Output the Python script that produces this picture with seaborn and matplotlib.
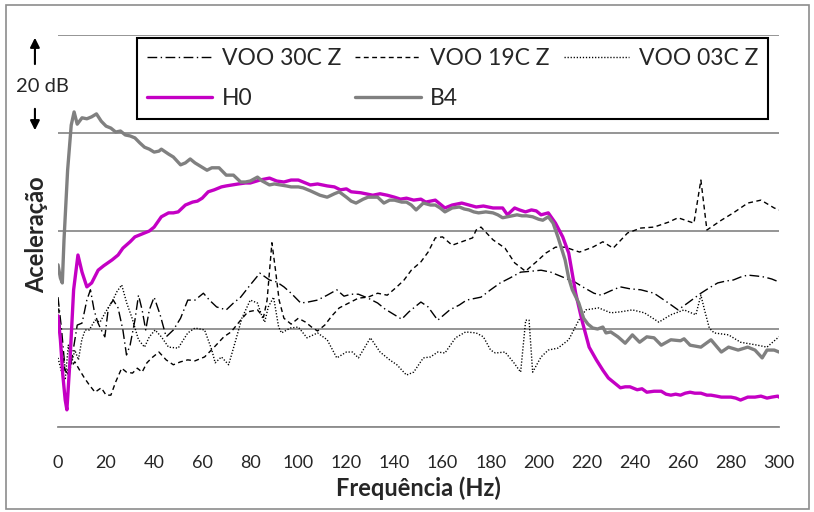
import matplotlib
matplotlib.use("Agg")
import matplotlib.pyplot as plt
import seaborn as sns
from matplotlib.patches import Rectangle

# --- data (frequency in Hz, level in dB above axis) ---
f_30c = [0, 1.5, 3, 4.5, 6, 8, 10, 12, 13.5, 15, 16.5, 18, 19.5, 21, 23, 25, 27, 28.5, 30, 32,
         33.5, 35, 36.5, 38, 40, 42.5, 45, 48, 51, 54, 57, 60.5, 63, 66, 70, 73, 76, 80, 84, 88,
         91, 94, 97, 101, 104, 108, 112, 116, 119, 122, 125, 129, 133, 136, 140, 143, 146, 151,
         154, 158, 163, 167, 170, 176, 180, 184, 188, 192.5, 197, 201, 205, 208, 212, 215, 219,
         223, 226, 230, 234, 238, 242.5, 248, 251, 254, 258, 262, 267.5, 271, 274.5, 278, 281,
         284, 287, 291, 294, 297, 300]
v_30c = [26.5, 19.8, 11.6, 10.6, 14.7, 20.8, 21.2, 25.9, 28.0, 23.9, 21.4, 19.8, 18.4, 24.5,
         25.9, 24.3, 19.8, 14.7, 16.7, 21.8, 26.9, 23.9, 19.8, 23.9, 26.5, 22.9, 18.4, 19.8,
         22.2, 25.9, 25.9, 27.3, 25.9, 24.5, 23.9, 25.3, 26.5, 29.0, 31.4, 30.0, 29.6, 28.6,
         27.3, 25.3, 25.5, 25.9, 26.9, 28.0, 26.7, 27.1, 27.1, 26.3, 25.3, 24.1, 22.9, 22.0,
         23.5, 25.5, 24.5, 21.8, 23.9, 24.9, 25.9, 26.5, 28.0, 29.4, 30.4, 31.6, 31.8, 32.0,
         31.6, 31.0, 30.2, 29.6, 28.4, 27.3, 26.9, 27.8, 28.6, 28.2, 28.0, 27.3, 26.3, 25.3,
         23.9, 25.3, 27.3, 28.4, 29.4, 29.8, 30.0, 30.6, 31.0, 30.8, 30.6, 30.2, 29.6]

f_19c = [0, 1.5, 3, 5, 7, 9, 11, 13, 15.4, 18, 20, 22, 24, 26.5, 28.5, 31, 33, 35, 37, 39, 42,
         45, 48, 51, 54, 57, 61, 65, 69, 72, 76, 79, 83, 85.5, 87, 89, 90.5, 92, 94, 97, 100,
         103, 106, 108, 111, 114, 117, 121, 125, 129, 133, 137, 141, 144, 147, 151, 154, 157,
         160, 164, 168, 172.5, 174, 176, 181, 186, 190, 194.5, 199, 203, 207, 211, 217, 222.5,
         226.7, 231, 237, 242.5, 248, 254, 258, 264.6, 267.5, 270, 276, 281, 287, 292.5, 298, 300]
v_19c = [25.9, 16.7, 11.2, 12.0, 13.3, 11.6, 10.0, 8.6, 7.1, 8.0, 6.5, 6.5, 9.2, 12.0, 11.2,
         11.0, 12.0, 11.2, 13.1, 14.1, 15.3, 13.7, 12.7, 13.3, 13.7, 13.5, 14.3, 16.3, 18.4,
         19.4, 21.8, 23.5, 23.9, 22.4, 25.9, 37.6, 32.0, 25.9, 22.2, 21.0, 22.2, 21.4, 20.2,
         19.6, 20.8, 22.7, 24.3, 25.3, 26.3, 26.5, 27.3, 26.9, 28.6, 30.0, 32.0, 33.7, 35.7,
         38.6, 38.8, 37.1, 37.8, 38.6, 40.2, 40.8, 38.2, 36.5, 33.5, 31.8, 33.7, 35.5, 36.7,
         36.7, 35.7, 36.7, 37.8, 36.5, 39.6, 40.6, 40.8, 41.8, 42.7, 41.6, 50.4, 40.2, 42.2,
         43.7, 45.7, 46.3, 44.7, 44.3]

f_03c = [0, 1.5, 3, 4.3, 5.5, 7, 8.5, 9.9, 11.3, 13, 15.4, 17.5, 19.6, 22.4, 24.5, 26.5, 28.6,
         30.7, 33.5, 36, 38, 40.4, 43, 46, 50, 54, 57, 61, 64, 65.4, 68, 71, 74, 76.5, 80, 83,
         85, 86, 87.5, 89.7, 91.8, 93, 96.7, 100, 103.6, 108, 112, 116, 120, 122.5, 125, 130,
         134, 138, 141, 145, 148, 152, 155, 158, 161, 165.4, 169.6, 174, 177, 180, 182, 186,
         189.7, 192.5, 194.6, 196, 197.5, 201, 204, 208, 212.5, 216.7, 219.6, 225, 230, 234,
         239, 244, 250, 255, 260.5, 265.4, 267.5, 269, 271, 273, 279, 284, 291, 295, 299.5, 300]
v_03c = [14.1, 11.2, 9.6, 16.7, 12.7, 15.7, 13.7, 17.8, 19.8, 19.8, 21.8, 21.4, 23.3, 25.5,
         27.6, 29.0, 25.3, 22.4, 17.8, 16.3, 18.4, 19.8, 18.4, 16.3, 16.1, 19.2, 20.2, 19.8,
         15.7, 13.1, 14.3, 12.7, 17.8, 22.2, 25.9, 25.3, 22.4, 21.4, 24.5, 26.5, 20.4, 19.2,
         20.2, 20.4, 18.2, 19.2, 17.8, 14.1, 15.3, 15.3, 14.1, 18.2, 15.3, 13.7, 12.7, 10.6,
         11.2, 14.1, 14.3, 15.3, 15.1, 18.2, 19.4, 19.2, 18.4, 15.7, 15.1, 15.3, 13.1, 11.2,
         21.8, 21.8, 11.2, 14.3, 15.7, 16.1, 17.8, 21.8, 23.9, 24.3, 23.3, 23.5, 23.9, 23.3,
         21.4, 22.9, 23.9, 22.9, 26.9, 23.9, 20.2, 19.2, 18.8, 17.3, 16.7, 16.3, 18.2, 18.4]

f_h0 = [0, 1, 2, 3, 3.7, 5, 6.5, 8.3, 10, 12, 14, 16.7, 19, 22.5, 25, 27, 30, 32, 34, 36, 38,
        40, 43, 46, 48, 50, 53, 56, 58, 60, 62.5, 65, 68, 70, 72.5, 75, 78, 80, 84, 88, 91, 94,
        97, 100, 103, 105, 108, 112, 115, 117.5, 120, 122, 126, 131, 134, 137, 140, 142.5, 145,
        148, 151, 153, 157, 161, 164, 168, 171, 174, 177, 181, 185, 187, 190, 192, 194.5, 197,
        199, 201, 204, 207, 210, 212.5, 215.4, 218, 221, 224, 226.7, 229, 231, 234, 236, 238,
        241, 243, 245, 248, 251, 253, 255, 257, 259, 261, 263, 265, 267.5, 270, 271.7, 274,
        276, 278, 280, 282, 284, 287, 290, 292.5, 295, 297, 299.5, 300]
v_h0 = [22.7, 17.8, 10.6, 5.5, 3.5, 13.7, 28.0, 35.1, 31.6, 28.6, 29.4, 32.0, 32.9, 34.1, 35.1,
        36.5, 37.8, 38.8, 39.2, 39.6, 40.0, 40.8, 42.9, 43.7, 43.7, 43.9, 45.3, 45.9, 46.1,
        46.7, 48.0, 48.4, 49.0, 49.2, 49.4, 49.6, 49.8, 49.8, 50.4, 50.8, 50.2, 50.0, 50.4,
        50.4, 49.8, 49.4, 49.6, 49.2, 49.0, 48.4, 48.6, 48.0, 47.8, 47.3, 47.6, 47.3, 46.9,
        46.5, 46.7, 46.3, 46.5, 45.9, 46.3, 44.7, 45.3, 45.7, 45.3, 44.9, 45.1, 44.7, 44.7,
        43.3, 44.7, 44.3, 43.9, 44.3, 44.1, 43.3, 43.7, 41.6, 38.8, 35.5, 27.3, 21.8, 16.3,
        13.7, 11.6, 10.0, 9.2, 8.0, 8.2, 8.2, 7.6, 7.8, 7.1, 7.3, 7.3, 6.7, 6.5, 6.7, 6.5,
        6.9, 7.1, 6.9, 6.9, 6.5, 6.5, 6.3, 6.1, 6.1, 6.1, 5.9, 5.5, 6.1, 6.1, 6.3, 5.9, 6.1,
        6.3, 6.1]

f_b4 = [0, 1, 1.8, 2.5, 4, 5.5, 6.7, 8, 10, 12, 14, 16, 18, 20, 22, 24, 26, 28, 30, 32, 34,
        36, 38, 40, 42, 43, 46, 48, 51, 53, 55, 57, 59, 62, 64, 67, 70, 73, 76, 78, 80, 83, 85,
        88, 90, 92.5, 95, 97, 100, 102, 105, 109, 112, 115, 117, 120, 122, 124, 127, 129, 133,
        135.6, 138, 140, 143, 145, 147, 149, 152, 155, 157, 159, 161, 164, 167, 169, 171, 173,
        175, 178, 181, 183, 185, 187, 189, 191, 193, 195, 197.5, 200, 201.7, 204, 206, 208, 211,
        212.5, 214, 216.7, 218.7, 220.5, 222.5, 224.5, 226.7, 228, 230, 233, 236, 239, 242, 245,
        248, 251, 255, 259, 260.5, 263, 267.5, 271.7, 276, 279, 283, 287, 290, 293, 295, 298, 300]
v_b4 = [33.1, 30.4, 29.4, 38.2, 52.4, 61.6, 64.3, 61.8, 63.1, 62.9, 63.3, 63.9, 62.4, 61.4,
        61.0, 60.2, 60.4, 59.6, 59.4, 59.0, 58.0, 57.1, 56.7, 56.1, 56.3, 56.7, 55.7, 55.1,
        53.5, 53.9, 54.7, 53.9, 53.3, 52.4, 52.9, 52.9, 51.4, 51.4, 50.0, 50.0, 50.2, 51.0,
        50.2, 49.4, 49.6, 49.4, 49.2, 49.0, 49.0, 48.8, 48.2, 47.3, 46.9, 47.6, 48.0, 46.9,
        46.1, 45.7, 46.5, 46.9, 46.9, 45.7, 46.3, 46.3, 45.9, 45.9, 45.3, 44.3, 45.7, 45.3,
        45.3, 44.7, 43.9, 44.7, 44.9, 44.5, 44.3, 43.9, 43.7, 43.9, 43.7, 43.3, 42.7, 42.9,
        43.1, 43.3, 43.1, 43.1, 42.9, 42.4, 42.2, 42.9, 41.6, 38.8, 34.1, 30.4, 28.0, 25.3,
        22.2, 21.0, 20.2, 20.0, 20.4, 19.2, 19.4, 18.4, 17.1, 18.8, 17.3, 18.4, 18.2, 16.7,
        17.8, 17.6, 18.0, 16.7, 16.3, 17.8, 15.3, 16.3, 15.7, 16.3, 15.7, 14.1, 15.7, 15.7, 15.3]

x_ticks = list(range(0, 301, 20))
grid_levels = [0, 20, 40, 60, 80]

sns.set_style("white")
plt.rcParams["font.family"] = ["Lato", "DejaVu Sans"]

fig = plt.figure(figsize=(8.14, 5.12), dpi=100)
ax = fig.add_axes([58 / 814, 1 - 427 / 512, 721 / 814, 392 / 512])

blk = dict(color="black", linewidth=1.0, errorbar=None, ax=ax)
l30 = sns.lineplot(x=f_30c, y=v_30c, label="VOO 30C Z", **blk).lines[-1]
l30.set_dashes((7, 2.5, 1, 2.5))
l19 = sns.lineplot(x=f_19c, y=v_19c, label="VOO 19C Z", **blk).lines[-1]
l19.set_dashes((3.5, 2.5))
l03 = sns.lineplot(x=f_03c, y=v_03c, label="VOO 03C Z", **blk).lines[-1]
l03.set_dashes((0.9, 1.3))
sns.lineplot(x=f_h0, y=v_h0, label="H0", color="#C400C4", linewidth=2.4, errorbar=None, ax=ax)
sns.lineplot(x=f_b4, y=v_b4, label="B4", color="#808080", linewidth=2.4, errorbar=None, ax=ax)

ax.set_xlim(0, 300)
ax.set_ylim(0, 80)
ax.set_xticks(x_ticks)
ax.set_yticks(grid_levels)
ax.set_yticklabels([])
ax.tick_params(axis="y", length=0)
ax.tick_params(axis="x", direction="out", length=6, width=1.2, color="#8c8c8c",
               pad=14, labelsize=13)
ax.grid(axis="y", color="#8c8c8c", linewidth=1.3)
ax.set_axisbelow(True)
for side in ["left", "right", "top"]:
    ax.spines[side].set_visible(False)
ax.spines["bottom"].set_color("#8c8c8c")
ax.spines["bottom"].set_linewidth(1.3)

ax.set_xlabel("Frequência (Hz)", fontsize=17, fontweight="bold", labelpad=4)
ax.set_ylabel("Aceleração", fontsize=17, fontweight="bold", va="center")
ax.yaxis.set_label_coords(-0.03, 0.49)

# 20 dB scale marker
ax.annotate("", xy=(-9.6, 80), xytext=(-9.6, 73.5), annotation_clip=False,
            arrowprops=dict(arrowstyle="-|>", color="black", lw=1.5, mutation_scale=14))
ax.annotate("", xy=(-9.6, 60), xytext=(-9.6, 65.5), annotation_clip=False,
            arrowprops=dict(arrowstyle="-|>", color="black", lw=1.5, mutation_scale=14))
ax.text(-6.3, 69.5, "20 dB", fontsize=14.5, ha="center", va="center", clip_on=False)

h, lab = ax.get_legend_handles_labels()
order = [0, 3, 1, 4, 2]
leg = ax.legend([h[i] for i in order], [lab[i] for i in order], ncol=3,
                loc="upper left", bbox_to_anchor=(0.109, 0.992), borderaxespad=0,
                fontsize=16.5, handlelength=2.85, handletextpad=0.43, columnspacing=0.6,
                labelspacing=0.8, borderpad=0.45, fancybox=False, framealpha=1,
                edgecolor="black")
leg.get_frame().set_linewidth(1.5)

fig.patches.append(Rectangle((6 / 814, 3 / 512), 803 / 814, 504 / 512, transform=fig.transFigure,
                             fill=False, edgecolor="#8c8c8c", linewidth=1.2))

fig.savefig("out.png", dpi=100)
